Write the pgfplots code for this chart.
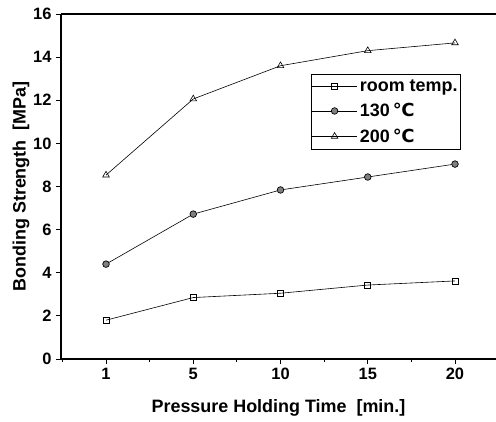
\documentclass[border=0pt]{standalone}
\usepackage{fontspec}
\setmainfont{Liberation Sans}
\newfontfamily\dv{DejaVu Sans}
\usepackage{pgfplots}
\pgfplotsset{compat=1.18}

\begin{document}
\begin{tikzpicture}
\begin{axis}[
    scale only axis,
    width=435bp, height=345bp,
    xmin=-0.516, xmax=4.47,
    ymin=0, ymax=16,
    axis lines=left,
    axis line style={-, line width=1.1pt},
    xtick={0,1,2,3,4},
    xticklabels={1,5,10,15,20},
    minor xtick={-0.5,0.5,1.5,2.5,3.5,4.5},
    ytick={0,2,...,16},
    tick align=outside,
    major tick length=5bp,
    minor tick length=3bp,
    tick style={black, line width=0.9pt},
    /pgf/number format/assume math mode=true,
    tick label style={font=\bfseries\fontsize{16.5}{16.5}\selectfont},
    xticklabel style={yshift=-1bp},
    yticklabel style={xshift=-1bp},
    xlabel={Pressure Holding Time\ \ [min.]},
    ylabel={Bonding Strength\ \ [MPa]},
    label style={font=\bfseries\fontsize{18}{18}\selectfont},
    xlabel style={at={([yshift=-49bp]axis description cs:0.5,0)}, anchor=center},
    ylabel style={at={([xshift=-40bp]axis description cs:0,0.5)}, anchor=center},
    legend style={at={(axis description cs:0.5747,0.826)}, anchor=north west,
        draw=black, line width=0.6pt, font=\bfseries\fontsize{18}{18}\selectfont,
        row sep=6.5bp, inner xsep=0bp, inner ysep=3.5bp,
        nodes={inner xsep=3bp}},
    legend cell align=left,
    legend image code/.code={
        \draw[#1, mark repeat=2, mark phase=2] plot coordinates {(-3bp,0bp) (20bp,0bp) (42bp,0bp)};
    },
    every axis plot/.append style={black, line width=0.6pt},
]
\coordinate (bl) at (rel axis cs:0,0);
\coordinate (tr) at (rel axis cs:1,1);
\draw[line width=1.1pt] (rel axis cs:0,1) -- (rel axis cs:1,1);

\addplot[mark=square, mark size=3bp, mark options={fill=white, line width=0.6pt}]
    coordinates {(0,1.8) (1,2.85) (2,3.05) (3,3.43) (4,3.62)};
\addlegendentry{room temp.}
\addplot[mark=*, mark size=3.3bp, mark options={fill=gray, line width=0.7pt}]
    coordinates {(0,4.4) (1,6.72) (2,7.84) (3,8.44) (4,9.04)};
\addlegendentry{130\,{\dv ℃}}
\addplot[mark=triangle, mark size=3.8bp, mark options={fill=white, line width=0.6pt}]
    coordinates {(0,8.53) (1,12.06) (2,13.6) (3,14.3) (4,14.66)};
\addlegendentry{200\,{\dv ℃}}
\end{axis}
\pgfresetboundingbox
\path ([shift={(-61bp,-63bp)}]bl) rectangle ([shift={(0bp,14bp)}]tr);
\end{tikzpicture}
\end{document}
